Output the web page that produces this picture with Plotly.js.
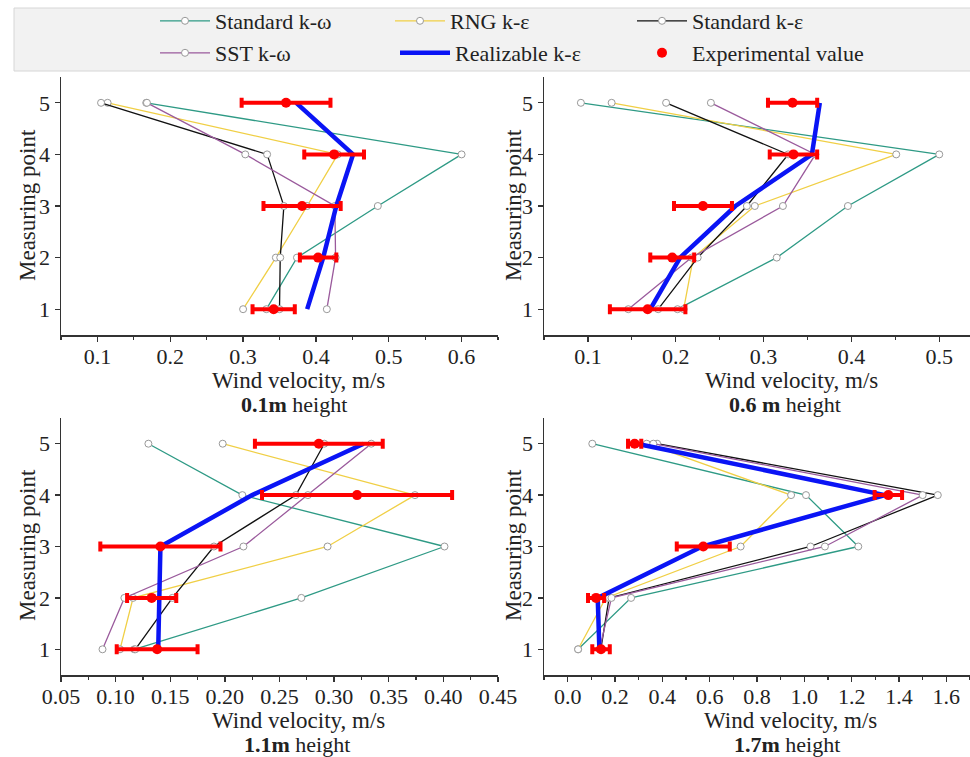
<!DOCTYPE html>
<html>
<head>
<meta charset="utf-8">
<script src="https://cdn.plot.ly/plotly-3.0.1.min.js"></script>
<style>html,body{margin:0;padding:0;background:#fff;}#chart{width:970px;height:757px;}</style>
</head>
<body>
<div id="chart"></div>
<script>
// Measuring points (y)
const points = [1, 2, 3, 4, 5];
const seriesNames = ["Standard k-ω", "RNG k-ε", "Standard k-ε", "SST k-ω", "Realizable k-ε", "Experimental value"];

// 0.1 m height
const h01_stdKw = [0.332, 0.374, 0.485, 0.600, 0.167];
const h01_rng   = [0.300, 0.345, 0.388, 0.430, 0.114];
const h01_stdKe = [0.350, 0.351, 0.356, 0.333, 0.105];
const h01_sst   = [0.415, 0.427, 0.426, 0.303, 0.168];
const h01_real  = [0.388, 0.410, 0.428, 0.451, 0.373];
const h01_exp   = [0.342, 0.403, 0.381, 0.425, 0.359];
const h01_err   = [0.029, 0.025, 0.053, 0.041, 0.061];

// 0.6 m height
const h06_stdKw = [0.202, 0.315, 0.396, 0.500, 0.092];
const h06_rng   = [0.209, 0.220, 0.290, 0.451, 0.127];
const h06_stdKe = [0.180, 0.225, 0.281, 0.328, 0.189];
const h06_sst   = [0.146, 0.218, 0.322, 0.359, 0.240];
const h06_real  = [0.171, 0.205, 0.268, 0.355, 0.364];
const h06_exp   = [0.168, 0.196, 0.231, 0.334, 0.333];
const h06_err   = [0.043, 0.025, 0.033, 0.027, 0.028];

// 1.1 m height
const h11_stdKw = [0.117, 0.270, 0.401, 0.216, 0.130];
const h11_rng   = [0.104, 0.116, 0.294, 0.374, 0.198];
const h11_stdKe = [0.118, 0.152, 0.190, 0.265, 0.291];
const h11_sst   = [0.088, 0.108, 0.217, 0.276, 0.334];
const h11_real  = [0.139, 0.140, 0.141, 0.225, 0.327];
const h11_exp   = [0.138, 0.133, 0.141, 0.321, 0.286];
const h11_err   = [0.037, 0.0225, 0.055, 0.087, 0.0585];

// 1.7 m height
const h17_stdKw = [0.044, 0.268, 1.228, 1.007, 0.104];
const h17_rng   = [0.044, 0.161, 0.731, 0.944, 0.334];
const h17_stdKe = [0.140, 0.175, 1.026, 1.564, 0.378];
const h17_sst   = [0.135, 0.185, 1.087, 1.500, 0.362];
const h17_real  = [0.134, 0.127, 0.568, 1.341, 0.292];
const h17_exp   = [0.141, 0.120, 0.573, 1.355, 0.283];
const h17_err   = [0.037, 0.034, 0.112, 0.058, 0.028];

// Tick labels
const ticks01 = ["0.1", "0.2", "0.3", "0.4", "0.5", "0.6"];
const ticks06 = ["0.1", "0.2", "0.3", "0.4", "0.5"];
const ticks11 = ["0.05", "0.10", "0.15", "0.20", "0.25", "0.30", "0.35", "0.40", "0.45"];
const ticks17 = ["0.0", "0.2", "0.4", "0.6", "0.8", "1.0", "1.2", "1.4", "1.6"];
const yTicks = ["1", "2", "3", "4", "5"];
const captionsBold = ["0.1m", "0.6 m", "1.1m", "1.7m"];

const FONT = "Liberation Serif";
const colors = ["#2e9a85", "#f0cf45", "#111111", "#9a5a9c", "#0a14f5", "#ff0000"];
const legendIds = ["legend", "legend2", "legend3", "legend4", "legend5", "legend6"];

const panels = [
  {ax: "", series: [h01_stdKw, h01_rng, h01_stdKe, h01_sst, h01_real], exp: h01_exp, err: h01_err},
  {ax: "2", series: [h06_stdKw, h06_rng, h06_stdKe, h06_sst, h06_real], exp: h06_exp, err: h06_err},
  {ax: "3", series: [h11_stdKw, h11_rng, h11_stdKe, h11_sst, h11_real], exp: h11_exp, err: h11_err},
  {ax: "4", series: [h17_stdKw, h17_rng, h17_stdKe, h17_sst, h17_real], exp: h17_exp, err: h17_err}
];

const traces = [];
panels.forEach((p, pi) => {
  p.series.forEach((vals, si) => {
    const isBlue = si === 4;
    traces.push({
      type: "scatter", mode: isBlue ? "lines" : "lines+markers",
      x: vals, y: points, name: seriesNames[si],
      xaxis: "x" + p.ax, yaxis: "y" + p.ax,
      showlegend: pi === 0, legend: legendIds[si],
      line: {color: colors[si], width: isBlue ? 4.5 : 1.3},
      marker: {symbol: "circle", size: 7, color: "#ffffff", line: {color: "#999999", width: 1}},
      hoverinfo: "x+y"
    });
  });
  traces.push({
    type: "scatter", mode: "markers",
    x: p.exp, y: points, name: seriesNames[5],
    xaxis: "x" + p.ax, yaxis: "y" + p.ax,
    showlegend: pi === 0, legend: legendIds[5],
    marker: {color: colors[5], size: 10},
    error_x: {type: "data", array: p.err, visible: true, color: colors[5], thickness: 4, width: 5}
  });
});

const W = 970, H = 757;
const px = v => v / W, py = v => 1 - v / H;

function xAxis(dom, range, text, minorD) {
  return {
    domain: dom, range: range, tickvals: text.map(Number), ticktext: text,
    showline: true, linecolor: "#333", linewidth: 1.5, ticks: "outside", ticklen: 5,
    tickcolor: "#333", tickwidth: 1.3, showgrid: false, zeroline: false,
    ticklabelstandoff: -4,
    tickfont: {family: FONT, size: 22, color: "#222"},
    minor: {ticks: "outside", ticklen: 3, tickcolor: "#333", dtick: minorD, showgrid: false}
  };
}
function yAxis(dom, anchor) {
  return {
    domain: dom, range: [0.5, 5.5], tickvals: yTicks.map(Number), ticktext: yTicks,
    showline: true, linecolor: "#333", linewidth: 1.5, ticks: "outside", ticklen: 5,
    tickcolor: "#333", tickwidth: 1.3, showgrid: false, zeroline: false, anchor: anchor,
    tickfont: {family: FONT, size: 22, color: "#222"}
  };
}

const xL = [px(61), px(498)], xR = [px(544), 1];
const yT = [py(335), py(77)], yB = [py(675), py(418)];

const annotations = [];
const capPos = [[298, 294], [791, 785], [298, 297], [790, 787]];
const capY = [[381, 404], [381, 404], [720, 744], [720, 744]];
for (let i = 0; i < 4; i++) {
  annotations.push({xref: "paper", yref: "paper", x: px(capPos[i][0]), y: py(capY[i][0]),
    text: "Wind velocity, m/s", showarrow: false, font: {family: FONT, size: 23, color: "#222"},
    xanchor: "center", yanchor: "middle"});
  annotations.push({xref: "paper", yref: "paper", x: px(capPos[i][1]), y: py(capY[i][1]),
    text: "<b>" + captionsBold[i] + "</b> height", showarrow: false, font: {family: FONT, size: 22, color: "#222"},
    xanchor: "center", yanchor: "middle"});
}
[[27, 205], [513, 205], [27, 545], [513, 545]].forEach(c => {
  annotations.push({xref: "paper", yref: "paper", x: px(c[0]), y: py(c[1]), textangle: -90,
    text: "Measuring point", showarrow: false, font: {family: FONT, size: 23, color: "#222"},
    xanchor: "center", yanchor: "middle"});
});

const layout = {
  width: W, height: H, margin: {l: 0, r: 0, t: 0, b: 0},
  paper_bgcolor: "#ffffff", plot_bgcolor: "#ffffff",
  font: {family: FONT, size: 22, color: "#222"},
  showlegend: true,
  shapes: [{type: "rect", xref: "paper", yref: "paper", x0: px(14), x1: 1.01, y0: py(71), y1: py(8),
    fillcolor: "#f2f2f2", line: {color: "#d6d6d6", width: 1}, layer: "below"}],
  xaxis: xAxis(xL, [0.05, 0.65], ticks01, 0.05),
  yaxis: yAxis(yT, "x"),
  xaxis2: xAxis(xR, [0.05, 0.535], ticks06, 0.05),
  yaxis2: yAxis(yT, "x2"),
  xaxis3: xAxis(xL, [0.05, 0.45], ticks11, 0.025),
  yaxis3: yAxis(yB, "x3"),
  xaxis4: xAxis(xR, [-0.1, 1.7], ticks17, 0.1),
  yaxis4: yAxis(yB, "x4"),
  annotations: annotations
};
layout.xaxis.anchor = "y"; layout.xaxis2.anchor = "y2"; layout.xaxis3.anchor = "y3"; layout.xaxis4.anchor = "y4";

// legend entries: text start x and row centre y (px)
const legendPos = [[215, 21], [450, 21], [692, 21], [215, 53], [455, 53], [692, 53]];
const ITEMW = 50;
legendIds.forEach((id, i) => {
  layout[id] = {
    x: px(legendPos[i][0] - ITEMW - 10), xanchor: "left",
    y: py(legendPos[i][1]), yanchor: "middle",
    bgcolor: "rgba(0,0,0,0)", borderwidth: 0, itemwidth: ITEMW,
    font: {family: FONT, size: 22, color: "#222"}
  };
});

Plotly.newPlot("chart", traces, layout, {displayModeBar: false, staticPlot: true});
</script>
</body>
</html>
